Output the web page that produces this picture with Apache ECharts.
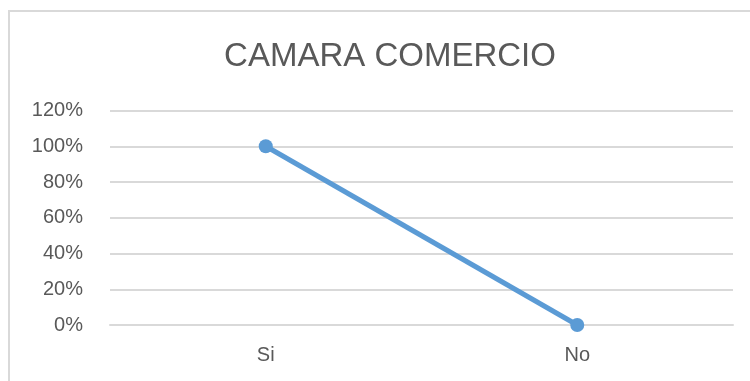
<!DOCTYPE html>
<html>
<head>
<meta charset="UTF-8">
<title>camara_comercio</title>
<script src="https://cdn.jsdelivr.net/npm/echarts@6/dist/echarts.min.js"></script>
<style>
  html, body { margin: 0; padding: 0; background: #fff; }
  #main { width: 750px; height: 381px; }
</style>
</head>
<body>
<div id="main"></div>
<script type="text/javascript">
var categories = ['Si', 'No'];
var values = [1.0, 0.0];
var yTicks = [0, 0.2, 0.4, 0.6, 0.8, 1.0, 1.2];

var myChart = echarts.init(document.getElementById('main'));

var option = {
    backgroundColor: '#fff',
    animation: false,
    title: {
        text: 'CAMARA COMERCIO',
        left: 385,
        textAlign: 'center',
        top: 35,
        textStyle: {
            fontFamily: 'Liberation Sans',
            fontSize: 33,
            fontWeight: 'normal',
            color: '#595959'
        }
    },
    graphic: [{
        type: 'rect',
        shape: { x: 9, y: 11, width: 780, height: 420 },
        style: { fill: 'none', stroke: '#d9d9d9', lineWidth: 2 },
        silent: true
    }],
    grid: {
        top: 110.5,
        bottom: 56,
        left: 110,
        right: 17
    },
    xAxis: {
        type: 'category',
        data: categories,
        boundaryGap: true,
        axisLine: { show: true, lineStyle: { color: '#d9d9d9', width: 2 } },
        axisTick: { show: false },
        axisLabel: {
            margin: 20,
            fontFamily: 'Liberation Sans',
            fontSize: 20,
            color: '#595959'
        }
    },
    yAxis: {
        type: 'value',
        min: yTicks[0],
        max: yTicks[yTicks.length - 1],
        interval: 0.2,
        axisLine: { show: false },
        axisTick: { show: false },
        splitLine: { lineStyle: { color: '#d9d9d9', width: 2 } },
        axisLabel: {
            margin: 27,
            fontFamily: 'Liberation Sans',
            fontSize: 20,
            color: '#595959',
            formatter: function (v) {
                return Math.round(v * 100) + '%';
            }
        }
    },
    series: [{
        name: 'CAMARA COMERCIO',
        type: 'line',
        data: values,
        symbol: 'circle',
        symbolSize: 14,
        itemStyle: { color: '#5b9bd5' },
        lineStyle: { color: '#5b9bd5', width: 5 }
    }]
};
myChart.setOption(option);
</script>
</body>
</html>
